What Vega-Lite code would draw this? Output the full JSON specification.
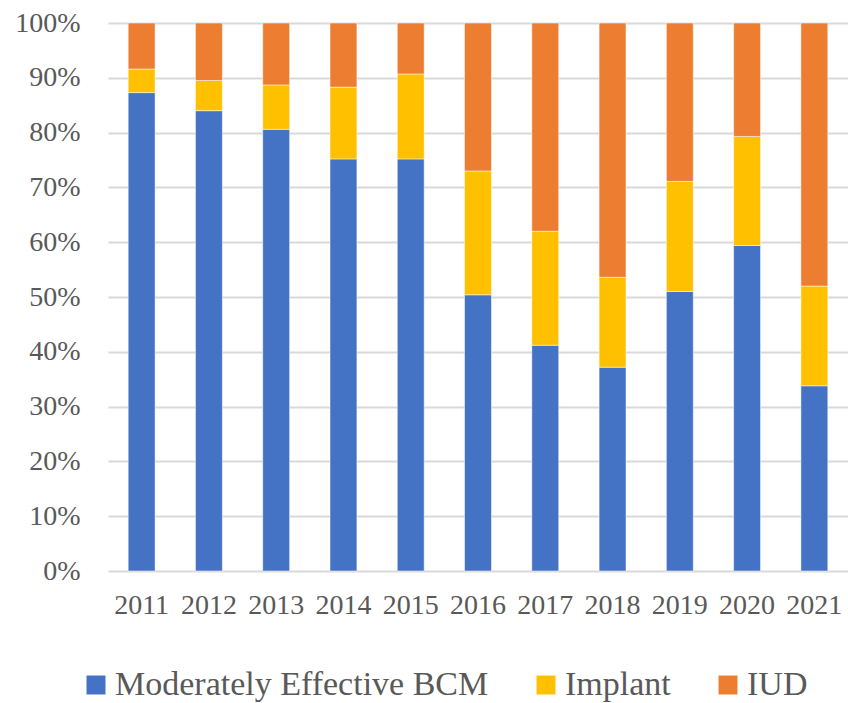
{
  "$schema": "https://vega.github.io/schema/vega-lite/v6.json",
  "width": 740,
  "height": 548,
  "autosize": {"type": "none"},
  "padding": {"left": 108, "top": 23, "right": 0, "bottom": 132},
  "background": "white",
  "config": {"view": {"stroke": null}, "font": "'Liberation Serif', 'Times New Roman', serif"},
  "data": {
    "values": [
      {"year": "2011", "method": "Moderately Effective BCM", "value": 87.3, "ord": 1},
      {"year": "2011", "method": "Implant", "value": 4.3, "ord": 2},
      {"year": "2011", "method": "IUD", "value": 8.4, "ord": 3},
      {"year": "2012", "method": "Moderately Effective BCM", "value": 84.0, "ord": 1},
      {"year": "2012", "method": "Implant", "value": 5.5, "ord": 2},
      {"year": "2012", "method": "IUD", "value": 10.5, "ord": 3},
      {"year": "2013", "method": "Moderately Effective BCM", "value": 80.6, "ord": 1},
      {"year": "2013", "method": "Implant", "value": 8.1, "ord": 2},
      {"year": "2013", "method": "IUD", "value": 11.3, "ord": 3},
      {"year": "2014", "method": "Moderately Effective BCM", "value": 75.2, "ord": 1},
      {"year": "2014", "method": "Implant", "value": 13.1, "ord": 2},
      {"year": "2014", "method": "IUD", "value": 11.7, "ord": 3},
      {"year": "2015", "method": "Moderately Effective BCM", "value": 75.2, "ord": 1},
      {"year": "2015", "method": "Implant", "value": 15.5, "ord": 2},
      {"year": "2015", "method": "IUD", "value": 9.3, "ord": 3},
      {"year": "2016", "method": "Moderately Effective BCM", "value": 50.4, "ord": 1},
      {"year": "2016", "method": "Implant", "value": 22.6, "ord": 2},
      {"year": "2016", "method": "IUD", "value": 27.0, "ord": 3},
      {"year": "2017", "method": "Moderately Effective BCM", "value": 41.2, "ord": 1},
      {"year": "2017", "method": "Implant", "value": 20.8, "ord": 2},
      {"year": "2017", "method": "IUD", "value": 38.0, "ord": 3},
      {"year": "2018", "method": "Moderately Effective BCM", "value": 37.2, "ord": 1},
      {"year": "2018", "method": "Implant", "value": 16.4, "ord": 2},
      {"year": "2018", "method": "IUD", "value": 46.4, "ord": 3},
      {"year": "2019", "method": "Moderately Effective BCM", "value": 51.0, "ord": 1},
      {"year": "2019", "method": "Implant", "value": 20.1, "ord": 2},
      {"year": "2019", "method": "IUD", "value": 28.9, "ord": 3},
      {"year": "2020", "method": "Moderately Effective BCM", "value": 59.4, "ord": 1},
      {"year": "2020", "method": "Implant", "value": 19.9, "ord": 2},
      {"year": "2020", "method": "IUD", "value": 20.7, "ord": 3},
      {"year": "2021", "method": "Moderately Effective BCM", "value": 33.8, "ord": 1},
      {"year": "2021", "method": "Implant", "value": 18.2, "ord": 2},
      {"year": "2021", "method": "IUD", "value": 48.0, "ord": 3}
    ]
  },
  "mark": {"type": "bar", "stroke": "white", "strokeWidth": 0.5},
  "encoding": {
    "x": {
      "field": "year",
      "type": "nominal",
      "scale": {"paddingInner": 0.6, "paddingOuter": 0.3},
      "axis": {
        "title": null,
        "labelAngle": 0,
        "labelFont": "'Liberation Serif', 'Times New Roman', serif",
        "labelFontSize": 28,
        "labelColor": "#595959",
        "labelPadding": 20,
        "ticks": false,
        "tickSize": 0,
        "domain": false,
        "grid": false
      }
    },
    "y": {
      "field": "value",
      "type": "quantitative",
      "stack": "normalize",
      "scale": {"domain": [0, 1], "nice": false},
      "axis": {
        "title": null,
        "format": ".0%",
        "values": [0, 0.1, 0.2, 0.3, 0.4, 0.5, 0.6, 0.7, 0.8, 0.9, 1],
        "labelFont": "'Liberation Serif', 'Times New Roman', serif",
        "labelFontSize": 28,
        "labelColor": "#595959",
        "labelPadding": 28,
        "ticks": false,
        "tickSize": 0,
        "domain": false,
        "grid": true,
        "gridColor": "#d9d9d9",
        "gridWidth": 2
      }
    },
    "color": {
      "field": "method",
      "type": "nominal",
      "sort": ["Moderately Effective BCM", "Implant", "IUD"],
      "scale": {
        "domain": ["Moderately Effective BCM", "Implant", "IUD"],
        "range": ["#4472C4", "#FFC000", "#ED7D31"]
      },
      "legend": {
        "title": null,
        "orient": "none",
        "direction": "horizontal",
        "legendX": -29,
        "legendY": 645,
        "symbolType": "square",
        "symbolSize": 360,
        "symbolStrokeWidth": 0,
        "labelFont": "'Liberation Serif', 'Times New Roman', serif",
        "labelFontSize": 34,
        "labelColor": "#595959",
        "labelOffset": 2,
        "labelLimit": 600,
        "columnPadding": 40
      }
    },
    "order": {"field": "ord", "type": "quantitative"}
  }
}
